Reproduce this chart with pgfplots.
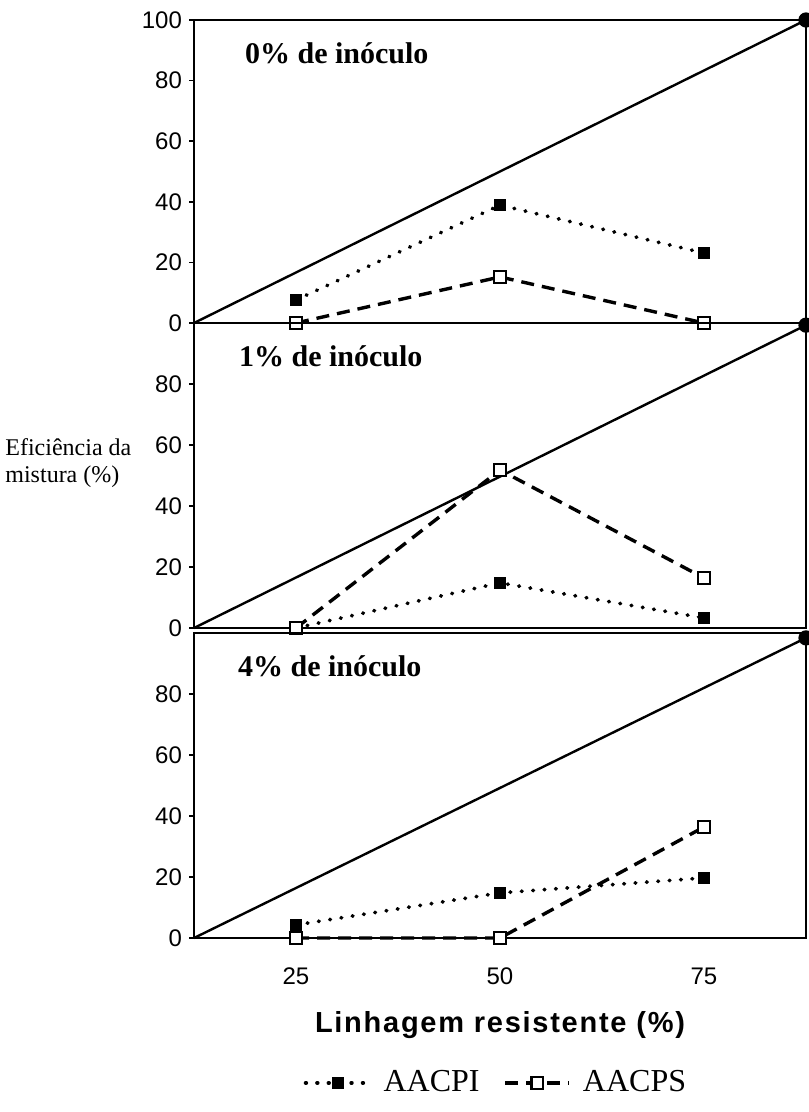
\documentclass[border=0pt]{standalone}
\usepackage{fontspec}
\setmainfont{Liberation Serif}
\newfontfamily\arial{Liberation Sans}
\newfontfamily\arialsp[LetterSpace=6]{Liberation Sans}
\usepackage{pgfplots}
\pgfplotsset{compat=1.18}

\pgfplotsset{
  panel/.style={
    scale only axis, width=306pt,
    xmin=12.5, xmax=87.5, ymin=0, ymax=100,
    xtick={25,50,75}, xticklabels={},
    x tick style={draw=none},
    y tick style={black, line width=0.8pt},
    tick align=outside, major tick length=2.5pt,
    ytick pos=left,
    axis line style={black, line width=1pt},
    /pgf/number format/assume math mode=true,
    tick label style={font=\arial\fontsize{12}{14}\selectfont},
    clip=false,
  },
  diag/.style={black, line width=1.2pt, mark=*, mark size=3.2pt, mark indices={2}},
  pi/.style={black, line width=1.9pt, line cap=round, dash pattern=on 0.3pt off 5.4pt,
    mark=square*, mark size=2.6pt, mark options={solid, fill=black, line width=0.8pt}},
  ps/.style={black, line width=1.7pt, dash pattern=on 6.5pt off 4pt,
    mark=square*, mark size=2.9pt, mark options={solid, fill=white, draw=black, line width=1.1pt}},
}

\begin{document}
\begin{tikzpicture}
\useasboundingbox (0pt,0pt) rectangle (404pt,-556pt);

% Top panel: 0%
\begin{axis}[panel, at={(97pt,-161.5pt)}, anchor=south west, height=151.5pt,
  ytick={0,20,40,60,80,100}]
\addplot[diag, forget plot] coordinates {(12.5,0) (87.5,100)};
\addplot[pi] coordinates {(25,7.6) (50,38.9) (75,23.1)};
\addplot[ps] coordinates {(25,0) (50,15.2) (75,0)};
\end{axis}

% Middle panel: 1%
\begin{axis}[panel, at={(97pt,-314pt)}, anchor=south west, height=152.5pt,
  ytick={0,20,40,60,80}]
\addplot[diag, forget plot] coordinates {(12.5,0) (87.5,99.3)};
\addplot[pi] coordinates {(25,0) (50,14.8) (75,3.3)};
\addplot[ps] coordinates {(25,0) (50,51.8) (75,16.4)};
\end{axis}

% Bottom panel: 4%
\begin{axis}[panel, at={(97pt,-469pt)}, anchor=south west, height=152.5pt,
  ytick={0,20,40,60,80},
  xticklabels={25,50,75},
  xticklabel style={yshift=-9pt},
  legend style={at={(0.495,-0.475)}, anchor=center, draw=none, fill=none,
    font=\fontsize{16}{18}\selectfont,
    /tikz/every odd column/.append style={column sep=4pt},
    /tikz/every even column/.append style={column sep=10pt}},
  legend columns=2,
  legend image code/.code={\draw[mark repeat=2, mark phase=2, #1] plot coordinates {(0pt,0pt) (16pt,0pt) (32pt,0pt)};}]
\addplot[diag, forget plot] coordinates {(12.5,0) (87.5,98.4)};
\addplot[pi] coordinates {(25,4.3) (50,14.8) (75,19.7)};
\addplot[ps] coordinates {(25,0) (50,0) (75,36.4)};
\legend{AACPI, AACPS}
\end{axis}

\node[anchor=base west, font=\bfseries\fontsize{15}{18}\selectfont] at (119pt,-32pt) {0\% de inóculo};
\node[anchor=base west, font=\bfseries\fontsize{15}{18}\selectfont] at (116pt,-183pt) {1\% de inóculo};
\node[anchor=base west, font=\bfseries\fontsize{15}{18}\selectfont] at (115.5pt,-338pt) {4\% de inóculo};

\node[anchor=base west, inner sep=0pt, font=\fontsize{12}{14}\selectfont] at (2.5pt,-227.5pt) {Eficiência da};
\node[anchor=base west, inner sep=0pt, font=\fontsize{12}{14}\selectfont] at (2.5pt,-241pt) {mistura (\%)};

\node[anchor=base, font=\arialsp\bfseries\fontsize{14.5}{17}\selectfont] at (250pt,-516pt) {Linhagem resistente (\%)};
\end{tikzpicture}
\end{document}
